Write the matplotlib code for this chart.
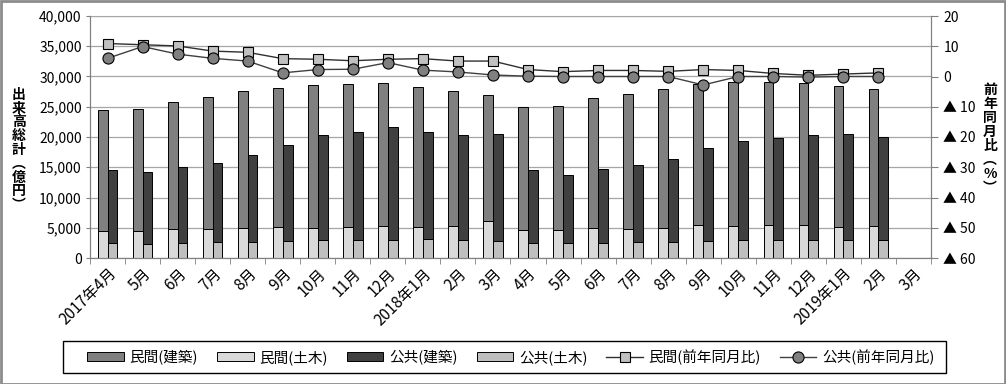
import matplotlib
matplotlib.use("Agg")
import matplotlib.pyplot as plt
import numpy as np
from matplotlib.patches import Rectangle
from matplotlib.ticker import FuncFormatter, FixedLocator, MultipleLocator

plt.rcParams['font.family'] = ['Noto Sans CJK JP', 'DejaVu Sans']

categories = ["2017年4月", "5月", "6月", "7月", "8月", "9月", "10月", "11月", "12月",
              "2018年1月", "2月", "3月", "4月", "5月", "6月", "7月", "8月", "9月",
              "10月", "11月", "12月", "2019年1月", "2月", "3月"]

# 億円 (last month, 2019年3月, has no data)
private_civil = [4410, 4410, 4740, 4740, 4900, 5070, 4900, 5070, 5240, 5070, 5240, 6060,
                 4570, 4570, 4900, 4740, 4900, 5400, 5240, 5400, 5400, 5070, 5240]
private_building = [20000, 20220, 20990, 21820, 22650, 22980, 23640, 23640, 23630, 23140, 22310, 20830,
                    20330, 20500, 21490, 22310, 22980, 23310, 23800, 23640, 23470, 23310, 22640]
public_civil = [2420, 2260, 2420, 2590, 2590, 2760, 2920, 2920, 2920, 3090, 2920, 2760,
                2420, 2420, 2420, 2590, 2590, 2760, 2920, 2920, 2920, 2920, 2920]
public_building = [12070, 11900, 12620, 13110, 14380, 15860, 17360, 17850, 18680, 17680, 17360, 17680,
                   12070, 11250, 12240, 12730, 13720, 15420, 16370, 16860, 17360, 17520, 17030]

# 前年同月比 (%)
private_yoy = [10.9, 10.5, 10.1, 8.4, 8.0, 5.9, 5.7, 5.2, 5.7, 5.9, 5.1, 5.1,
               2.3, 1.6, 2.0, 2.0, 1.7, 2.3, 2.0, 1.0, 0.4, 0.8, 1.2]
public_yoy = [6.0, 9.9, 7.4, 6.0, 5.1, 1.2, 2.3, 2.4, 4.6, 2.1, 1.5, 0.5,
              0.1, 0.0, 0.0, 0.0, 0.0, -2.8, 0.0, 0.0, -0.2, 0.0, 0.0]

c_pb = '#808080'
c_pc = '#d9d9d9'
c_gb = '#404040'
c_gc = '#bfbfbf'

W, H = 1006, 384
fig = plt.figure(figsize=(W / 100, H / 100), dpi=100)
ax = fig.add_axes([90 / W, 1 - 258 / H, (931 - 90) / W, (258 - 16) / H])

n = len(private_civil)
x = np.arange(n)
bw = 0.28
off = 0.14
ax.bar(x - off, private_civil, bw, color=c_pc, edgecolor='black', linewidth=0.7, zorder=2, label='民間(土木)')
ax.bar(x - off, private_building, bw, bottom=private_civil, color=c_pb, edgecolor='black', linewidth=0.7, zorder=2, label='民間(建築)')
ax.bar(x + off, public_civil, bw, color=c_gc, edgecolor='black', linewidth=0.7, zorder=2, label='公共(土木)')
ax.bar(x + off, public_building, bw, bottom=public_civil, color=c_gb, edgecolor='black', linewidth=0.7, zorder=2, label='公共(建築)')

ax.set_xlim(-0.5, len(categories) - 0.5)
ax.set_ylim(0, 40000)
ax.yaxis.set_major_locator(MultipleLocator(5000))
ax.yaxis.set_major_formatter(FuncFormatter(lambda v, p: f"{int(v):,}"))
ax.grid(axis='y', color='#a6a6a6', linewidth=0.9, zorder=0)
ax.set_axisbelow(True)
ax.set_xticks(np.arange(len(categories)))
ax.set_xticklabels(categories, rotation=45, ha='right', rotation_mode='anchor', fontsize=11)
ax.tick_params(axis='x', length=0, pad=5)
ax.xaxis.set_minor_locator(FixedLocator(np.arange(-0.5, len(categories), 1.0)))
ax.tick_params(axis='x', which='minor', length=4, color='#808080')
ax.tick_params(axis='y', length=3, color='#808080', labelsize=10, pad=3)
for s in ['left', 'bottom', 'right', 'top']:
    ax.spines[s].set_color('#808080')
ax.spines['top'].set_color('#a6a6a6')

ax2 = ax.twinx()
ax2.set_ylim(-60, 20)
ax2.yaxis.set_major_locator(MultipleLocator(10))
ax2.yaxis.set_major_formatter(FuncFormatter(lambda v, p: f"▲ {int(-v)}" if v < 0 else f"{int(v)}"))
ax2.tick_params(axis='y', length=5, color='#808080', labelsize=10, pad=4)
for s in ['left', 'bottom', 'right', 'top']:
    ax2.spines[s].set_color('#808080')
ax2.spines['top'].set_visible(False)

xl = np.arange(n)
ax2.plot(xl, private_yoy, '-', color='#303030', linewidth=1.0, marker='s', markersize=7.5,
         markerfacecolor='#c0c0c0', markeredgecolor='black', markeredgewidth=0.8, label='民間(前年同月比)', zorder=3)
ax2.plot(xl, public_yoy, '-', color='#404040', linewidth=1.0, marker='o', markersize=8,
         markerfacecolor='#808080', markeredgecolor='black', markeredgewidth=0.8, label='公共(前年同月比)', zorder=4)

# axis titles (vertical, stacked characters)
fig.text(19 / W, 1 - 150 / H, "\n".join("出来高総計︵億円︶"), ha='center', va='center',
         fontsize=10, fontweight='bold', linespacing=0.98)
fig.text(990 / W, 1 - 139 / H, "\n".join("前年同月比︵%︶"), ha='center', va='center',
         fontsize=10, fontweight='bold', linespacing=1.0)

# legend
h, l = ax.get_legend_handles_labels()
h2, l2 = ax2.get_legend_handles_labels()
order = [1, 0, 3, 2]
handles = [h[i] for i in order] + h2
labels = [l[i] for i in order] + l2
leg = fig.legend(handles, labels, loc='center', bbox_to_anchor=(511 / W, 1 - 357 / H), ncol=6,
                 frameon=False, fontsize=10.5, handlelength=2.5, handleheight=0.6,
                 handletextpad=0.4, columnspacing=1.3)
fig.add_artist(Rectangle((63 / W, 1 - 373 / H), (946 - 63) / W, (373 - 341) / H,
                         transform=fig.transFigure, fill=False, edgecolor='black', linewidth=1.0))

# chart border
fig.add_artist(Rectangle((0.5 / W, 0.5 / H), (W - 1.5) / W, (H - 1.5) / H, transform=fig.transFigure,
                         fill=False, edgecolor='#8c8c8c', linewidth=2.0))

fig.savefig("out.png", dpi=100)
